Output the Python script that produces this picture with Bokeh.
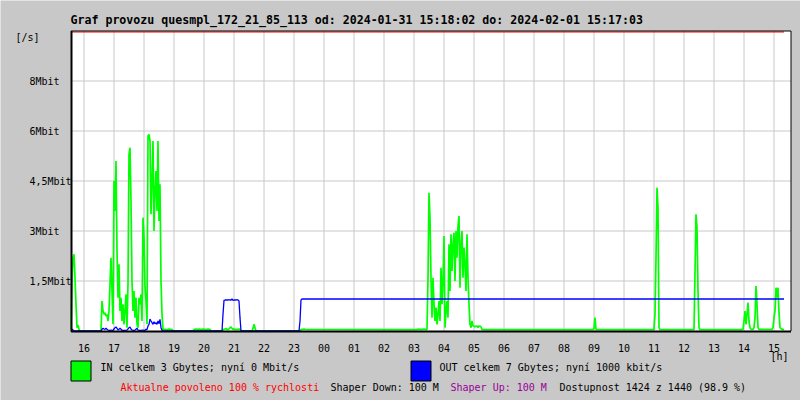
from bokeh.plotting import figure
from bokeh.models import Range1d, Label
from bokeh.core.properties import value
from bokeh.embed import file_html
from bokeh.resources import INLINE

# ---------------- data (Mbit/s, 2-minute samples, start time HH:MM) ----------------
SAMPLE_MIN = 2
X_START = "15:34"
SPAN_HOURS = 24

HOUR_TICKS = list(range(16, 40))
HOUR_LABELS = ["16", "17", "18", "19", "20", "21", "22", "23", "00", "01", "02", "03",
               "04", "05", "06", "07", "08", "09", "10", "11", "12", "13", "14", "15"]

Y_TICKS = [1.5, 3.0, 4.5, 6.0, 7.5]
Y_LABELS = ["1,5Mbit", "3Mbit", "4,5Mbit", "6Mbit", "8Mbit"]
Y_MAX = 9.0

in_1534 = [0.05, 1.5, 2.2, 2.3, 1.6, 0.8, 0.1, 0.18, 0.05, 0.0]
in_1632 = [0.0, 0.02, 0.9, 0.6, 0.5, 0.55, 0.45, 0.5,
           0.3, 0.6, 1.4, 2.2, 1.2, 0.2, 4.5, 3.6,
           5.1, 2.4, 1.0, 2.0, 0.6, 1.0, 0.3, 0.8,
           0.2, 0.6, 1.1, 0.1, 1.4, 5.3, 5.5, 3.9,
           1.5, 0.6, 1.2, 0.4, 1.0, 0.2, 0.1, 1.0,
           0.8, 1.1, 0.3, 3.4, 2.8, 1.3, 0.9, 0.2,
           5.85, 5.9, 5.7, 3.5, 4.5, 5.7, 3.0, 4.2,
           4.8, 3.6, 5.7, 3.3, 4.4, 1.5, 0.5, 0.04]
in_1840 = [0.05, 0.04, 0.05, 0.03, 0.05, 0.06, 0.05, 0.04, 0.05, 0.0]
in_1938 = [0.0, 0.04, 0.05, 0.06, 0.05, 0.05, 0.06, 0.05, 0.04, 0.05,
           0.06, 0.05, 0.05, 0.04, 0.05, 0.06, 0.05, 0.05, 0.0]
in_2036 = [0.0, 0.04, 0.05, 0.06, 0.08, 0.05, 0.04, 0.06, 0.1, 0.12,
           0.08, 0.05, 0.06, 0.05, 0.05, 0.04, 0.05, 0.06, 0.05, 0.0]
in_2136 = [0.0, 0.08, 0.2, 0.1, 0.0]
in_2312 = [0.0, 0.05, 0.04, 0.05, 0.06, 0.05]
in_0304 = [0.04, 0.05, 0.04, 0.06, 0.05, 0.04, 0.05, 0.05, 0.06, 0.05, 0.04, 0.05,
           1.6, 4.15, 3.4, 1.6, 0.4, 1.6, 0.8, 0.3,
           0.7, 0.2, 0.5, 0.9, 0.3, 1.9, 0.8, 1.5,
           2.85, 0.1, 0.6, 0.9, 0.4, 2.6, 1.2, 2.9,
           1.8, 2.6, 2.95, 1.5, 3.0, 2.2, 3.15, 3.45,
           1.3, 2.6, 3.0, 1.6, 2.5, 2.0, 1.2, 2.9,
           1.6, 0.8, 0.2, 0.1, 0.3, 0.15, 0.15, 0.12,
           0.15, 0.15, 0.1, 0.15, 0.15, 0.12, 0.05, 0.04]
in_0856 = [0.04, 0.05, 0.08, 0.4, 0.05, 0.04]
in_1058 = [0.04, 0.05, 0.5, 2.2, 4.3, 3.7, 0.1, 0.04]
in_1218 = [0.04, 0.05, 1.75, 3.5, 3.1, 1.2, 0.1, 0.04]
in_1356 = [0.04, 0.05, 0.3, 0.6, 0.2, 0.5, 0.85, 0.3, 0.1, 0.05,
           0.05, 0.05, 0.1, 0.4, 1.35, 0.8, 0.1, 0.05]
in_1454 = [0.05, 0.05, 0.1, 0.4, 0.6, 1.3, 1.0, 1.3, 0.55, 0.1, 0.08, 0.05, 0.05, 0.04]

IN_SEGMENTS = [("15:34", in_1534), ("16:32", in_1632), ("18:40", in_1840),
               ("19:38", in_1938), ("20:36", in_2036), ("21:36", in_2136),
               ("23:12", in_2312), ("03:04", in_0304), ("08:56", in_0856),
               ("10:58", in_1058), ("12:18", in_1218), ("13:56", in_1356),
               ("14:54", in_1454)]

out_1534 = [0.05, 0.05, 0.03, 0.0]
out_1632 = [0.0, 0.0, 0.05, 0.08, 0.06, 0.05, 0.08, 0.05,
            0.03, 0.02, 0.02, 0.03, 0.02, 0.02, 0.06, 0.1,
            0.12, 0.08, 0.03, 0.05, 0.08, 0.05, 0.02, 0.02,
            0.02, 0.02, 0.02, 0.03, 0.06, 0.1, 0.12, 0.06,
            0.03, 0.02, 0.02, 0.03, 0.05, 0.08, 0.03, 0.02,
            0.02, 0.02, 0.02, 0.03, 0.02, 0.02, 0.05, 0.04,
            0.15, 0.2, 0.36, 0.3, 0.25, 0.2, 0.28, 0.22,
            0.25, 0.2, 0.3, 0.22, 0.35, 0.1, 0.02, 0.0]
out_2036 = [0.0, 0.5, 0.92, 0.93, 0.93, 0.93, 0.93, 0.94, 0.93, 0.93,
            0.96, 0.92, 0.93, 0.93, 0.93, 0.94, 0.93, 0.9, 0.4, 0.0]
out_2310 = [0.0, 0.3, 0.93, 0.96]
out_1520 = [0.96]

OUT_SEGMENTS = [("15:34", out_1534), ("16:32", out_1632), ("20:36", out_2036),
                ("23:10", out_2310), ("15:20", out_1520)]

LIMIT_LINE = [8.97, 8.97]
LIMIT_TIMES = ["15:34", "15:20"]

TITLE = "Graf provozu quesmpl_172_21_85_113 od: 2024-01-31 15:18:02 do: 2024-02-01 15:17:03"
IN_TEXT = "IN celkem 3 Gbytes; nyní 0 Mbit/s"
OUT_TEXT = "OUT celkem 7 Gbytes; nyní 1000 kbit/s"
FOOT = [("Aktualne povoleno 100 % rychlosti", "#ff0000", 120),
        ("Shaper Down: 100 M", "#000000", 330),
        ("Shaper Up: 100 M", "#990099", 450),
        ("Dostupnost 1424 z 1440 (98.9 %)", "#000000", 559)]

IN_COLOR = "#00ff00"
OUT_COLOR = "#0000ff"


def t2h(s):
    h, m = map(int, s.split(":"))
    v = h + m / 60.0
    if v < 15.5:
        v += 24
    return v


def build(segments):
    xs, ys = [], []
    for start, vals in segments:
        t0 = t2h(start)
        for i, v in enumerate(vals):
            xs.append(t0 + i * SAMPLE_MIN / 60.0)
            ys.append(v)
    return xs, ys


in_x, in_y = build(IN_SEGMENTS)
out_x, out_y = build(OUT_SEGMENTS)

x0 = t2h(X_START)
x1 = x0 + SPAN_HOURS

# ---------------- layout: canvas pixel <-> data helpers ----------------
W, H = 800, 400
PX_PER_H = 30.0
MBIT_PER_PX = Y_MAX / 300.0
PLOT_LEFT_PX = 70.5
PLOT_BOTTOM_PX = 330.5
X_LEFT = x0 - PLOT_LEFT_PX / PX_PER_H


def hx(px):
    return X_LEFT + px / PX_PER_H


def vy(py):
    return (PLOT_BOTTOM_PX - py) * MBIT_PER_PX


GRAY = "#c8c8c8"
FONT = "DejaVu Sans Mono"

p = figure(width=W, height=H, x_range=Range1d(hx(0), hx(W)), y_range=Range1d(vy(H), vy(0)),
           x_axis_type=None, y_axis_type=None, min_border=0,
           output_backend="svg", toolbar_location=None,
           background_fill_color=GRAY, border_fill_color=GRAY, outline_line_color=None)

# plot area
p.quad(left=[x0], right=[x1], bottom=[0], top=[Y_MAX], fill_color="white", line_color=None)
p.segment(x0=HOUR_TICKS, y0=[0] * len(HOUR_TICKS), x1=HOUR_TICKS, y1=[Y_MAX] * len(HOUR_TICKS),
          line_color=GRAY, line_width=1)
p.segment(x0=[x0] * len(Y_TICKS), y0=Y_TICKS, x1=[x1] * len(Y_TICKS), y1=Y_TICKS,
          line_color=GRAY, line_width=1)

# series
p.line([t2h(t) for t in LIMIT_TIMES], LIMIT_LINE, line_color="#ff0000", line_width=1)
p.line(in_x, in_y, line_color=IN_COLOR, line_width=1.7)
p.line(out_x, out_y, line_color=OUT_COLOR, line_width=1.3)

# frame + axes lines
p.line([x0, x1, x1], [Y_MAX, Y_MAX, 0], line_color="black", line_width=1)
p.line([hx(71), hx(71), x1], [Y_MAX, vy(331), vy(331)], line_color="black", line_width=2)

# tick labels (at the tick values)
p.text(x=HOUR_TICKS, y=[vy(347)] * len(HOUR_TICKS), text=HOUR_LABELS,
       text_font=value(FONT), text_font_size="10px", text_color="black",
       text_align="center", text_baseline="middle")
p.text(x=[hx(29)] * len(Y_TICKS), y=Y_TICKS, text=Y_LABELS,
       text_font=value(FONT), text_font_size="10px", text_color="black",
       text_align="left", text_baseline="middle")


def add_text(px, py, text, size="10px", color="black", bold=False):
    p.add_layout(Label(x=hx(px), y=vy(py), text=text, text_font=FONT, text_font_size=size,
                       text_color=color, text_align="left", text_baseline="middle",
                       text_font_style="bold" if bold else "normal"))


add_text(70, 19, TITLE, size="11.6px", bold=True)
add_text(15, 37, "[/s]")
add_text(770, 356, "[h]")
for txt, col, px in FOOT:
    add_text(px, 387, txt, color=col)

# legend swatches + texts
for col, txt, sx, tx in ((IN_COLOR, IN_TEXT, 70.5, 100), (OUT_COLOR, OUT_TEXT, 410.5, 439)):
    p.quad(left=[hx(sx)], right=[hx(sx + 20)], top=[vy(360.5)], bottom=[vy(380.5)],
           fill_color=col, line_color="black", line_width=1)
    add_text(tx, 367, txt)

open("out.html", "w").write(file_html(p, INLINE))
